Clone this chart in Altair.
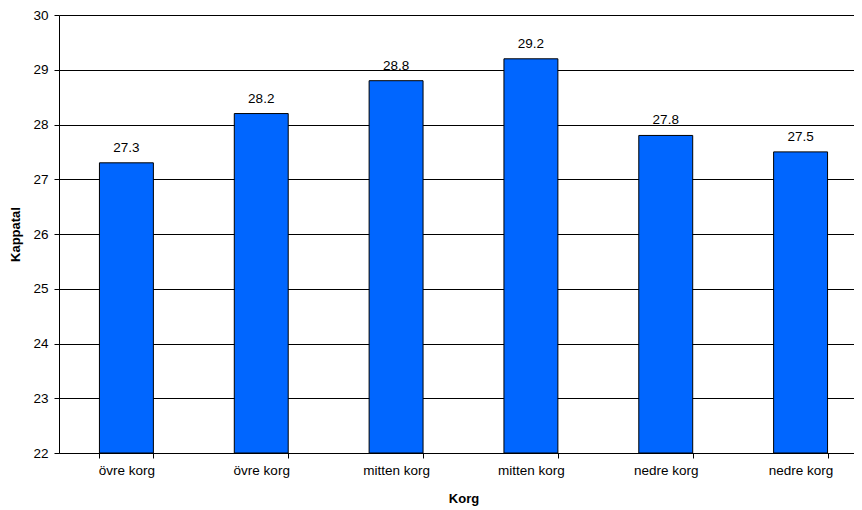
import altair as alt
import pandas as pd
import json

categories = ["övre korg", "övre korg", "mitten korg", "mitten korg", "nedre korg", "nedre korg"]
values = [27.3, 28.2, 28.8, 29.2, 27.8, 27.5]
y_min, y_max = 22, 30

df = pd.DataFrame({"idx": list(range(len(categories))), "cat": categories, "val": values})
label_expr = json.dumps(categories, ensure_ascii=False) + "[datum.value]"

FONT = "Liberation Sans"

x = alt.X("idx:O", title="Korg",
          scale=alt.Scale(paddingInner=0.6, paddingOuter=0.3, range=[0, 809]),
          axis=alt.Axis(labelExpr=label_expr, labelAngle=0, tickBand="extent",
                        domainColor="black", tickColor="black", tickSize=5,
                        labelPadding=5, titlePadding=16, grid=False))
y = alt.Y("val:Q", title="Kappatal",
          scale=alt.Scale(domain=[y_min, y_max], nice=False, zero=False),
          axis=alt.Axis(values=list(range(y_min, y_max + 1)), domainColor="black", tickColor="black",
                        tickSize=5, labelPadding=6, titlePadding=10,
                        gridColor="black", gridWidth=1, gridOpacity=1))

bars = alt.Chart(df).mark_bar(color="#0066FF", stroke="black", strokeWidth=1).encode(
    x=x, y=y, y2=alt.Y2(datum=y_min))
labels = alt.Chart(df).mark_text(baseline="bottom", dy=-8, fontSize=13.5, font=FONT, color="black").encode(
    x=alt.X("idx:O"), y=alt.Y("val:Q"), text=alt.Text("val:Q", format=".1f"))

chart = (bars + labels).properties(
    width=795, height=438,
    autosize=alt.AutoSizeParams(type="none"),
    padding={"left": 51, "top": 7, "right": 0, "bottom": 57},
).configure_view(stroke=None).configure_axis(
    labelFont=FONT, titleFont=FONT, labelFontSize=13.5, titleFontSize=13,
    labelColor="black", titleColor="black", titleFontWeight="bold"
)

chart.save("out.html", embed_options={"renderer": "svg", "actions": False})
